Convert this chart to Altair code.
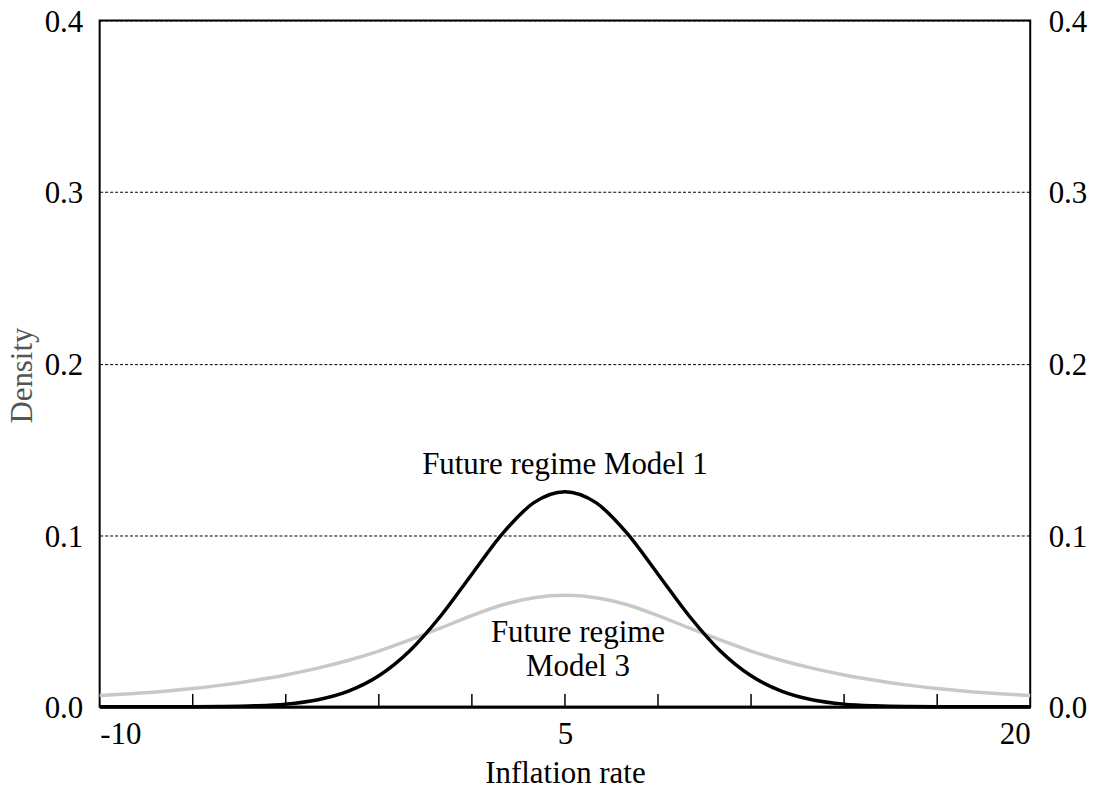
import altair as alt
import pandas as pd

# ---- data ----
inflation = list(range(-10, 21))
model1_density = [0.0, 0.0, 0.0, 0.0001, 0.0002, 0.0006, 0.0016, 0.0040, 0.0090, 0.0181,
                  0.0327, 0.0531, 0.0773, 0.1012, 0.1190, 0.1254, 0.1190, 0.1012, 0.0773, 0.0531,
                  0.0327, 0.0181, 0.0090, 0.0040, 0.0016, 0.0006, 0.0002, 0.0001, 0.0, 0.0, 0.0]
model3_density = [0.0066, 0.0077, 0.0090, 0.0107, 0.0128, 0.0155, 0.0186, 0.0224, 0.0270, 0.0325,
                  0.0390, 0.0460, 0.0532, 0.0595, 0.0636, 0.0650, 0.0636, 0.0595, 0.0532, 0.0460,
                  0.0390, 0.0325, 0.0270, 0.0224, 0.0186, 0.0155, 0.0128, 0.0107, 0.0090, 0.0077, 0.0066]
x_label_values = [-10, 5, 20]
x_tick_values = [-7, -4, -1, 2, 5, 8, 11, 14, 17]
y_values = [0.0, 0.1, 0.2, 0.3, 0.4]

ann_text = ["Future regime Model 1", "Future regime", "Model 3"]
ann_x = [5.0, 5.42, 5.42]
ann_y = [0.1358, 0.0377, 0.018]

df1 = pd.DataFrame({"x": inflation, "density": model1_density})
df3 = pd.DataFrame({"x": inflation, "density": model3_density})
dticks = pd.DataFrame({"x": x_tick_values})
dann = pd.DataFrame({"x": ann_x, "density": ann_y, "text": ann_text})

FONT = "Liberation Serif"
FS = 31
W, H = 934, 689

xs = alt.Scale(domain=[-10, 20], nice=False, zero=False)
ys = alt.Scale(domain=[0, 0.4], nice=False, zero=False)

x_axis = alt.Axis(values=x_label_values, ticks=False, grid=False, domain=True,
                  domainColor="black", domainWidth=3, labelPadding=13,
                  labelExpr="'' + datum.value",
                  labelFontSize=FS, labelFont=FONT, labelColor="black",
                  title="Inflation rate", titleFontSize=FS, titleFont=FONT,
                  titleFontWeight="normal", titleColor="black",
                  titleY=76, titleBaseline="alphabetic")

y_left = alt.Axis(orient="left", values=y_values, format=".1f", ticks=False, domain=False,
                  grid=True, gridColor="black", gridDash=[3, 2], gridWidth=1, gridOpacity=1,
                  labelFontSize=FS, labelFont=FONT, labelColor="black", labelPadding=17,
                  labelBaseline="middle", labelOffset=2,
                  title="Density", titleFontSize=FS, titleFont=FONT, titleFontWeight="normal",
                  titleColor="#555555", titleX=-68, titleY=356, titleAngle=270,
                  titleAlign="center", titleBaseline="alphabetic")

y_right = alt.Axis(orient="right", values=y_values, format=".1f", ticks=False, domain=False,
                   grid=False, labelFontSize=FS, labelFont=FONT, labelColor="black",
                   labelPadding=18, labelBaseline="middle", labelOffset=2, title=None)

grey = alt.Chart(df3).mark_line(color="#c8c8c8", strokeWidth=3.5, interpolate="monotone").encode(
    x=alt.X("x:Q", scale=xs, axis=x_axis),
    y=alt.Y("density:Q", scale=ys, axis=y_left),
)

black = alt.Chart(df1).mark_line(color="black", strokeWidth=3.5, interpolate="monotone").encode(
    x=alt.X("x:Q", scale=xs, axis=x_axis),
    y=alt.Y("density:Q", scale=ys, axis=y_right),
)

ticks = alt.Chart(dticks).mark_rule(color="black", strokeWidth=1.5).encode(
    x=alt.X("x:Q", scale=xs, axis=x_axis),
    y=alt.value(H),
    y2=alt.value(H - 13),
)

labels = alt.Chart(dann).mark_text(font=FONT, fontSize=FS, color="black",
                                   align="center", baseline="alphabetic").encode(
    x=alt.X("x:Q", scale=xs, axis=x_axis),
    y=alt.Y("density:Q", scale=ys, axis=None),
    text="text:N",
)

chart = (
    alt.layer(grey, black, ticks, labels)
    .resolve_axis(y="independent")
    .properties(width=W, height=H, autosize="none", background="white",
                padding={"left": 92, "top": 11, "right": 60, "bottom": 80})
    .configure_view(stroke="black", strokeWidth=2)
)

chart.save("out.html", embed_options={"renderer": "svg", "actions": False})
